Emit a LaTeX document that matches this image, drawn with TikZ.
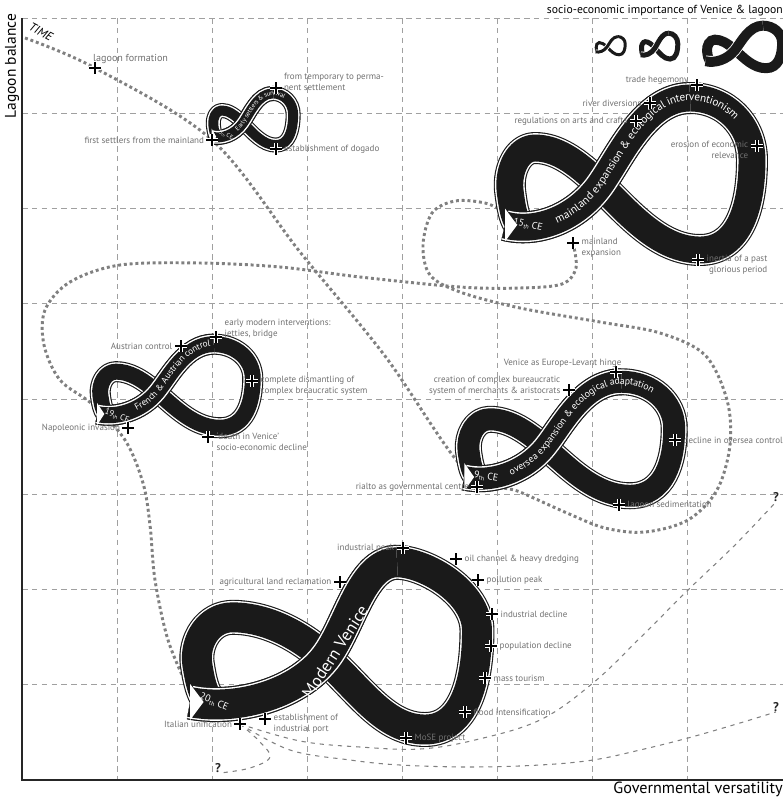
\documentclass[tikz,border=0pt]{standalone}
\usepackage{fontspec}
\setmainfont{PT Sans}
\usepackage{graphicx}
\usetikzlibrary{positioning, decorations.text, shapes.misc, backgrounds}
\definecolor{ribbonblack}{RGB}{26,26,26}
\definecolor{labelgray}{RGB}{112,112,112}
\definecolor{timegray}{RGB}{128,128,128}
\definecolor{gridgray}{RGB}{160,160,160}

% ribbon geometry (crossing at the origin, y downwards)
\newcommand\setrib[4]{\def\rbL{#1}\def\rbR{#2}\def\rbT{#2}\def\rbS{#3}\def\rbW{#4}\pgfmathsetmacro\rbM{(#1+#2)/2}}
\newcommand\rbover{({-95*\rbL},{40*\rbS}) .. controls ({-65*\rbL},{48*\rbS}) and ({-25*\rbM},{35*\rbS}) .. (0,0) .. controls ({20*\rbM},{-28*\rbS}) and ({45*\rbT},{-87*\rbS}) .. ({90*\rbT},{-87*\rbS})}
\newcommand\rbtext{\rbover .. controls ({125*\rbT},{-87*\rbS}) and ({152*\rbR},{-60*\rbS}) .. ({152*\rbR},{-25*\rbS}) .. controls ({152*\rbR},{20*\rbS}) and ({140*\rbR},{65*\rbS}) .. ({100*\rbR},{65*\rbS})}
\newcommand\rbfull{\rbtext .. controls ({60*\rbR},{65*\rbS}) and ({30*\rbM},{30*\rbS}) .. (0,0) .. controls ({-25*\rbM},{-25*\rbS}) and ({-45*\rbL},{-37*\rbS}) .. ({-65*\rbL},{-37*\rbS}) .. controls ({-82*\rbL},{-37*\rbS}) and ({-92*\rbL},{-15*\rbS}) .. ({-90*\rbL},{5*\rbS}) .. controls ({-88*\rbL},{22*\rbS}) and ({-86*\rbL},{32*\rbS}) .. ({-82*\rbL},{38*\rbS})}
\newcommand\rbstroke[1]{%
  \draw[ribbonblack, line width=\rbW*0.709pt+3.6pt, line join=round] #1;
  \draw[white, line width=\rbW*0.709pt+2pt, line join=round] #1;
  \draw[ribbonblack, line width=\rbW*0.709pt, line join=round] #1;}
\newcommand\drawrib{%
  \rbstroke{\rbfull}\rbstroke{\rbover}%
  \fill[white] ({-95*\rbL},{40*\rbS-\rbW/2-3}) -- ({-95*\rbL+0.45*\rbW},{40*\rbS}) -- ({-95*\rbL},{40*\rbS+\rbW/2+3}) -- cycle;}
\newcommand\drawribplain{%
  \draw[ribbonblack, line width=\rbW*0.709pt] \rbfull;
  \draw[white, line width=\rbW*0.709pt+1.2pt] \rbover;
  \draw[ribbonblack, line width=\rbW*0.709pt] \rbover;}
\newcommand\ribfont[1]{\color{white}\fontsize{#1}{#1}\selectfont}
\newcommand\ordth{\raisebox{-0.3ex}{\scalebox{0.62}{th}}}

\begin{document}
\begin{tikzpicture}[x=0.025cm, y=-0.025cm,
  lbl/.style={font=\fontsize{6.4}{7.8}\selectfont, text=labelgray, inner sep=0pt, align=left},
  plusmark/.style={cross out, draw=black, rotate=45, minimum size=5pt, inner sep=0pt, line width=0.8pt, preaction={draw=white, line width=2.4pt}},
  yeartag/.style={font=\fontsize{7}{8}\selectfont, text=white, inner sep=0pt},
  question/.style={font=\fontsize{9}{10}\selectfont\bfseries, text=black!85, inner sep=0pt},
  timeline/.style={draw=timegray, line width=2.1pt, dash pattern=on 2.1pt off 2pt},
  future/.style={draw=timegray, line width=0.75pt, dash pattern=on 3pt off 3.5pt},
  gridline/.style={draw=gridgray, line width=0.5pt, dash pattern=on 4pt off 3pt},
  axisline/.style={draw=black!85, line width=1pt},
  ribtext/.style={decorate, decoration={text along path}},
]
\useasboundingbox (0,0) rectangle (783,798);

% Axis titles
\node[rotate=90, font=\fontsize{11}{12}\selectfont, inner sep=0pt] (ylbl) at (12,66) {Lagoon balance};
\node[anchor=east, font=\fontsize{11.5}{12}\selectfont, inner sep=0pt] (xlbl) at (783,789) {Governmental versatility};
\node[rotate=-28, font=\fontsize{8.5}{10}\selectfont\itshape, inner sep=0pt] (time) at (41,32) {TIME};

% === Legend: socio-economic importance ===
\node[anchor=east, font=\fontsize{8.3}{10}\selectfont, inner sep=0pt] (title) at (783,11) {socio-economic importance of Venice \& lagoon};
\begin{scope}[shift={(607,47)}]
  \setrib{0.12}{0.12}{0.12}{3}\drawribplain
\end{scope}
\begin{scope}[shift={(655,48)}]
  \setrib{0.15}{0.15}{0.17}{5}\drawribplain
\end{scope}
\begin{scope}[shift={(735,50)}]
  \setrib{0.31}{0.31}{0.28}{10}\drawribplain
\end{scope}

% === 5th CE ===
\begin{scope}[shift={(243,123)}]
  \setrib{0.33}{0.33}{0.34}{10}\drawrib
  \path[ribtext, decoration={raise=-1.2pt, text align={left indent=19pt}, text={|\ribfont{4.6}|Early settlers {\&} survival}}] \rbtext;
\end{scope}
\node[yeartag, font=\fontsize{4.2}{5}\selectfont, rotate=-25] (y5) at (226,135) {5\ordth{} CE};

% === 9th CE ===
\begin{scope}[shift={(545,447)}]
  \setrib{0.85}{0.85}{0.75}{22}\drawrib
  \path[ribtext, decoration={raise=-1.8pt, text align={left indent=33pt}, text={|\ribfont{7}|oversea expansion {\&} ecological adaptation}}] \rbtext;
\end{scope}
\node[yeartag, rotate=-10] (y9) at (486,477) {9\ordth{} CE};

% === 15th CE ===
\begin{scope}[shift={(600,185)}]
  \setrib{1}{1}{1}{27}\drawrib
  \path[ribtext, decoration={raise=-2pt, text align={left indent=37pt}, text={|\ribfont{8}|mainland expansion {\&} ecological interventionism}}] \rbtext;
\end{scope}
\node[yeartag, rotate=-13] (y15) at (528,225) {15\ordth{} CE};

% === 19th CE ===
\begin{scope}[shift={(157,392)}]
  \setrib{0.63}{0.63}{0.55}{16}\drawrib
  \path[ribtext, decoration={raise=-1.6pt, text align={left indent=28pt}, text={|\ribfont{6.5}|French {\&} Austrian control}}] \rbtext;
\end{scope}
\node[yeartag, font=\fontsize{6}{7}\selectfont, rotate=-20] (y19) at (117,416) {19\ordth{} CE};

% === 20th CE ===
\begin{scope}[shift={(325,658)}]
  \setrib{1.42}{1.0}{1.1}{30}\def\rbT{0.8}\drawrib
  \node[rotate=57, font=\fontsize{12}{14}\selectfont, text=white, inner sep=0pt] (mv) at (10,-6) {Modern Venice};
\end{scope}
\node[yeartag, rotate=-22] (y20) at (214,702) {20\ordth{} CE};

% Events: early settlers
\node[plusmark] (lf) at (95,68) {};
\node[lbl, font=\fontsize{7.2}{8}\selectfont, above right=3pt and -1.5pt of lf.center] (lflbl) {lagoon formation};
\node[plusmark] (fs) at (212,140) {};
\node[lbl, left=5.5pt of fs.center] (fslbl) {first settlers from the mainland};
\node[plusmark] (tp) at (276,88) {};
\node[lbl, above right=-2pt and 5.5pt of tp.center] (tplbl) {from temporary to perma-\\nent settlement};
\node[plusmark] (ed) at (276,149) {};
\node[lbl, right=5.5pt of ed.center] (edlbl) {establishment of dogado};

% Events: mainland
\node[plusmark] (th) at (697,85) {};
\node[lbl, above left=0pt and 6pt of th.center] (thlbl) {trade hegemony};
\node[plusmark] (rd) at (650,103) {};
\node[lbl, left=6pt of rd.center] (rdlbl) {river diversions};
\node[plusmark] (ra) at (636,121) {};
\node[lbl, left=6pt of ra.center] (ralbl) {regulations on arts and crafts};
\node[plusmark] (er) at (757,146) {};
\node[lbl, align=right, below left=-3.5pt and 6pt of er.center] (erlbl) {erosion of economic\\relevance};
\node[plusmark] (me) at (573,243) {};
\node[lbl, below right=-3.5pt and 6pt of me.center] (melbl) {mainland\\expansion};
\node[plusmark] (ig) at (698,260) {};
\node[lbl, align=right, below right=-3.5pt and 6pt of ig.center] (iglbl) {inertia of a past\\glorious period};

% Events: oversea
\node[plusmark] (vh) at (616,372) {};
\node[lbl, above left=3pt and -4pt of vh.center] (vhlbl) {Venice as Europe-Levant hinge};
\node[plusmark] (cb) at (569,390) {};
\node[lbl, align=right, above left=-4pt and 6pt of cb.center] (cblbl) {creation of complex bureaucratic\\system of merchants \& aristocrats};
\node[plusmark] (dc) at (675,440) {};
\node[lbl, right=6pt of dc.center] (dclbl) {decline in oversea control};
\node[plusmark] (rc) at (477,487) {};
\node[lbl, left=5.5pt of rc.center] (rclbl) {rialto as governmental centre};
\node[plusmark] (ls) at (619,505) {};
\node[lbl, right=6pt of ls.center] (lslbl) {lagoon sedimentation};

% Events: French & Austrian
\node[plusmark] (ac) at (181,346) {};
\node[lbl, left=6pt of ac.center] (aclbl) {Austrian control};
\node[plusmark] (em) at (216,337) {};
\node[lbl, above right=-1pt and 6pt of em.center] (emlbl) {early modern interventions:\\jetties, bridge};
\node[plusmark] (cd) at (252,381) {};
\node[lbl, below right=-3.5pt and 6pt of cd.center] (cdlbl) {complete dismantling of\\complex breaucratic system};
\node[plusmark] (dv) at (208,437) {};
\node[lbl, below right=-3.5pt and 6pt of dv.center] (dvlbl) {`death in Venice'\\socio-economic decline};
\node[plusmark] (ni) at (128,428) {};
\node[lbl, left=5.5pt of ni.center] (nilbl) {Napoleonic invasion};

% Events: modern
\node[plusmark] (ip) at (403,548) {};
\node[lbl, left=6pt of ip.center] (iplbl) {industrial peak};
\node[plusmark] (oc) at (456,559) {};
\node[lbl, right=6pt of oc.center] (oclbl) {oil channel \& heavy dredging};
\node[plusmark] (pp) at (478,580) {};
\node[lbl, right=6pt of pp.center] (pplbl) {pollution peak};
\node[plusmark] (al) at (340,582) {};
\node[lbl, left=6pt of al.center] (allbl) {agricultural land reclamation};
\node[plusmark] (id) at (492,614) {};
\node[lbl, right=6pt of id.center] (idlbl) {industrial decline};
\node[plusmark] (pd) at (491,646) {};
\node[lbl, right=6pt of pd.center] (pdlbl) {population decline};
\node[plusmark] (mt) at (485,678) {};
\node[lbl, right=6pt of mt.center] (mtlbl) {mass tourism};
\node[plusmark] (fi) at (465,712) {};
\node[lbl, right=6pt of fi.center] (filbl) {flood intensification};
\node[plusmark] (mp) at (406,738) {};
\node[lbl, right=6pt of mp.center] (mplbl) {MoSE project};
\node[plusmark] (ep) at (265,719) {};
\node[lbl, below right=-3.5pt and 6pt of ep.center] (eplbl) {establishment of\\industrial port};
\node[plusmark] (iu) at (240,724) {};
\node[lbl, left=5.5pt of iu.center] (iulbl) {Italian unification};

% Open futures
\node[question] (q1) at (218,768) {?};
\node[question] (q2) at (776,497) {?};
\node[question] (q3) at (776,707) {?};

\begin{scope}[on background layer]
  % grid and axes
  \foreach \i in {1,...,7}
    \draw[gridline] ({22+95.1*\i},18) -- ({22+95.1*\i},780);
  \foreach \j in {0,...,7}
    \draw[gridline] (22,{18+95.25*\j}) -- (783,{18+95.25*\j});
  \draw[axisline] (22,18) -- (22,780) -- (783,780);

  % time line
  \coordinate (t0) at (25,38);
  \coordinate (in15) at (505,212);
  \coordinate (in20) at (188,688);
  \draw[timeline] plot[smooth, tension=0.55] coordinates {(t0) (lf) (fs) (300,252) (385,356) (465,470) (520,492) (567,513) (605,528) (645,532) (688,520) (717,490) (730,445) (727,400) (705,355) (660,333) (600,322) (520,308) (460,292) (430,275) (423,245) (432,213) (455,201) (485,203) (in15)};
  \draw[timeline] plot[smooth, tension=0.55] coordinates {(me) (576,268) (562,284) (520,288) (460,287) (360,277) (280,267) (200,263) (120,265) (70,282) (45,310) (44,345) (60,380) (92,404) (125,440) (143,483) (150,525) (155,580) (168,640) (in20)};

  % scenarios
  \draw[future] plot[smooth, tension=0.6] coordinates {(iu) (300,741) (360,747) (420,749) (475,740) (540,720) (593,683) (640,638) (688,590) (735,545) (q2.south)};
  \draw[future] plot[smooth, tension=0.6] coordinates {(iu) (290,750) (350,760) (400,765) (470,767) (540,765) (593,760) (640,750) (688,738) (740,723) (q3.south)};
  \draw[future] plot[smooth, tension=0.6] coordinates {(iu) (258,740) (270,757) (250,768) (q1.south east)};
\end{scope}
\end{tikzpicture}
\end{document}
